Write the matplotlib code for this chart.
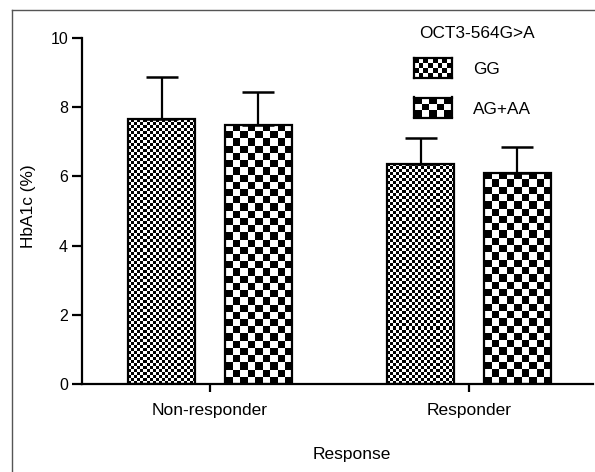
import numpy as np
import matplotlib
matplotlib.use("Agg")
import matplotlib.pyplot as plt
from matplotlib.lines import Line2D

plt.rcParams['font.family'] = ['Liberation Sans', 'DejaVu Sans']

# ---- data ----
categories = ["Non-responder", "Responder"]
groups = ["GG", "AG+AA"]
legend_title = "OCT3-564G>A"
gg_mean = [7.65, 6.36]
gg_sd = [1.21, 0.74]
ag_mean = [7.49, 6.11]
ag_sd = [0.94, 0.73]
y_ticks = [0, 2, 4, 6, 8, 10]
x_label = "Response"
y_label = "HbA1c (%)"

W, H = 595, 472
fig = plt.figure(figsize=(W / 100, H / 100), dpi=100)
ax = fig.add_axes([82 / W, (H - 384) / H, (593 - 82) / W, 346 / H])

x = np.arange(len(categories))
offset = 0.187
bw = 0.259
bars_gg = ax.bar(x - offset, gg_mean, bw, fill=False, edgecolor='black', linewidth=1.6, zorder=3)
bars_ag = ax.bar(x + offset, ag_mean, bw, fill=False, edgecolor='black', linewidth=1.6, zorder=3)
ax.errorbar(x - offset, gg_mean, yerr=[np.zeros(len(gg_sd)), gg_sd], fmt='none', ecolor='black',
            elinewidth=1.6, capsize=11.5, capthick=1.8, zorder=4)
ax.errorbar(x + offset, ag_mean, yerr=[np.zeros(len(ag_sd)), ag_sd], fmt='none', ecolor='black',
            elinewidth=1.6, capsize=11.5, capthick=1.8, zorder=4)

ax.set_xlim(-0.494, 1.479)
ax.set_ylim(0, 10)

# checkerboard fills
def checker(nx, ny):
    ii, jj = np.meshgrid(np.arange(nx), np.arange(ny))
    return ((ii + jj) % 2).astype(float)

fig.canvas.draw()
def fill_checker(bars, cell_px):
    for p in bars.patches:
        x0, y0 = p.get_x(), p.get_y()
        x1, y1 = x0 + p.get_width(), y0 + p.get_height()
        (px0, py0), (px1, py1) = ax.transData.transform([(x0, y0), (x1, y1)])
        nx = max(1, int(round((px1 - px0) / cell_px)))
        ny = max(1, int(round((py1 - py0) / cell_px)))
        ax.imshow(checker(nx, ny), cmap='gray', vmin=0, vmax=1, extent=(x0, x1, y0, y1),
                  aspect='auto', interpolation='nearest', zorder=2, origin='lower')

fill_checker(bars_gg, 3.0)
fill_checker(bars_ag, 7.3)
ax.set_xlim(-0.494, 1.479)
ax.set_ylim(0, 10)

for s in ['top', 'right']:
    ax.spines[s].set_visible(False)
for s in ['left', 'bottom']:
    ax.spines[s].set_linewidth(1.6)
ax.set_xticks(x)
ax.set_xticklabels(categories, fontsize=12.5)
ax.set_yticks(y_ticks)
ax.set_yticklabels([str(v) for v in y_ticks], fontsize=11.5)
ax.tick_params(axis='y', length=7, width=1.6, pad=3)
ax.tick_params(axis='x', length=6, width=1.6, pad=8)
ax.set_xlabel(x_label, fontsize=12.5)
ax.xaxis.set_label_coords((352 - 82) / 511, (384 - 455) / 346)
ax.set_ylabel(y_label, fontsize=12.4)
ax.yaxis.set_label_coords((28 - 82) / 511, (384 - 206) / 346)
ax.xaxis.label.set_va('center')
ax.yaxis.label.set_va('center')

# legend (manual)
fig.text(476.5 / W, 1 - 33 / H, legend_title, fontsize=12.4, ha='center', va='center')
for (label, ypix, cells) in [(groups[0], 68, (8, 4)), (groups[1], 107.5, (5, 3))]:
    sax = fig.add_axes([414 / W, 1 - (ypix + 10) / H, 38 / W, 20 / H])
    sax.imshow(checker(*cells), cmap='gray', vmin=0, vmax=1, aspect='auto', interpolation='nearest')
    sax.set_xticks([]); sax.set_yticks([])
    for sp in sax.spines.values():
        sp.set_linewidth(1.6)
    fig.text(473 / W, 1 - (ypix + 2) / H, label, fontsize=12.4, ha='left', va='center')

# outer frame (top and left)
fig.add_artist(Line2D([12 / W, 12 / W], [0, 1 - 10 / H], color='#555555', linewidth=1.0))
fig.add_artist(Line2D([12 / W, 1], [1 - 10 / H, 1 - 10 / H], color='#555555', linewidth=1.0))

fig.savefig("out.png", dpi=100)
